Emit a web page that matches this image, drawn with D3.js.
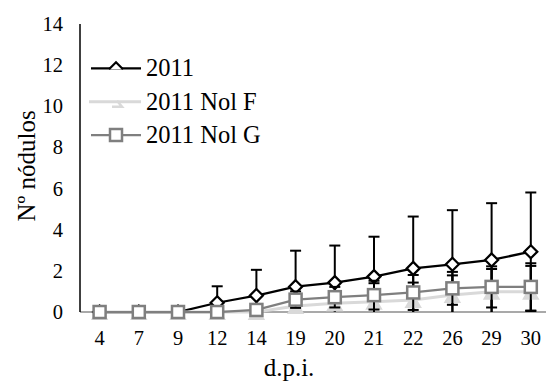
<!DOCTYPE html>
<html><head><meta charset="utf-8">
<script src="https://cdn.jsdelivr.net/npm/d3@7"></script>
<style>body{margin:0;background:#fff}svg{display:block}text{font-family:"Liberation Serif","Times New Roman",serif;fill:#000}</style>
</head><body>
<script>
const categories = ["4","7","9","12","14","19","20","21","22","26","29","30"];
const yTicks = [0,2,4,6,8,10,12,14];
const s2011 = [0,0,0,0.45,0.8,1.23,1.43,1.72,2.12,2.32,2.53,2.93];
const e2011 = [0,0,0,0.8,1.25,1.75,1.8,1.94,2.52,2.63,2.76,2.88];
const sNolF = [0,0,0,0,0,0.29,0.42,0.5,0.58,0.83,0.99,0.99];
const eNolF = [0,0,0,0,0,0.5,0.6,0.9,0.85,0.95,1.1,1.25];
const sNolG = [0,0,0,0,0.1,0.6,0.72,0.82,0.95,1.15,1.22,1.22];
const eNolG = [0,0,0,0,0.1,0.4,0.5,0.7,0.85,0.8,1.0,1.15];
const seriesNames = ["2011","2011 Nol F","2011 Nol G"];

const W=546,H=381;
const svg=d3.select("body").append("svg").attr("width",W).attr("height",H);
const x=d3.scaleBand().domain(categories).range([80,550.4]);
const cx=c=>x(c)+x.bandwidth()/2;
const y=d3.scaleLinear().domain([0,14]).range([312,24]);

svg.append("defs").append("clipPath").attr("id","clip").append("rect")
  .attr("x",80).attr("y",24).attr("width",W-80).attr("height",288);

svg.append("g").selectAll("text").data(yTicks).join("text")
  .attr("x",63).attr("y",d=>y(d)+7).attr("text-anchor","end")
  .style("font-size","20.5px").text(d=>d);
svg.append("g").selectAll("text").data(categories).join("text")
  .attr("x",d=>cx(d)).attr("y",345).attr("text-anchor","middle")
  .style("font-size","20.5px").text(d=>d);

svg.append("line").attr("x1",80).attr("x2",W).attr("y1",y(0)).attr("y2",y(0))
  .attr("stroke","#8c8c8c").attr("stroke-width",1.5);
svg.append("line").attr("x1",80).attr("x2",80).attr("y1",y(14)).attr("y2",y(0))
  .attr("stroke","#000").attr("stroke-width",1.5);

svg.append("text").attr("x",289).attr("y",376).attr("text-anchor","middle")
  .style("font-size","25px").text("d.p.i.");
svg.append("text").attr("transform","translate(35,166) rotate(-90)").attr("text-anchor","middle")
  .style("font-size","25px").text("Nº nódulos");

const plot=svg.append("g");

function errBars(vals,errs){
  const g=plot.append("g").attr("stroke","#000").attr("stroke-width",2).attr("clip-path","url(#clip)");
  vals.forEach((v,i)=>{
    const e=errs[i]; if(!e) return;
    const c=cx(categories[i]);
    g.append("line").attr("x1",c).attr("x2",c).attr("y1",y(v+e)).attr("y2",y(v-e));
    g.append("line").attr("x1",c-5.5).attr("x2",c+5.5).attr("y1",y(v+e)).attr("y2",y(v+e));
    g.append("line").attr("x1",c-5.5).attr("x2",c+5.5).attr("y1",y(v-e)).attr("y2",y(v-e));
  });
}
const line=d3.line().x((d,i)=>cx(categories[i])).y(d=>y(d));

errBars(s2011,e2011);
plot.append("path").datum(s2011).attr("d",line).attr("fill","none").attr("stroke","#000").attr("stroke-width",2.25);
const diamond="M0,-6.5L6.5,0L0,6.5L-6.5,0Z";
plot.append("g").selectAll("path").data(s2011).join("path")
  .attr("transform",(d,i)=>`translate(${cx(categories[i])},${y(d)})`)
  .attr("d",diamond).attr("fill","#fff").attr("stroke","#000").attr("stroke-width",2.25);

errBars(sNolF,eNolF);
plot.append("path").datum(sNolF).attr("d",line).attr("fill","none").attr("stroke","#d9d9d9").attr("stroke-width",3);
const tri="M0,-6L7,6L-7,6Z";
plot.append("g").selectAll("path").data(sNolF).join("path")
  .attr("transform",(d,i)=>`translate(${cx(categories[i])},${y(d)+1})`)
  .attr("d",tri).attr("fill","#d9d9d9").attr("stroke","#d9d9d9").attr("stroke-width",2);

errBars(sNolG,eNolG);
plot.append("path").datum(sNolG).attr("d",line).attr("fill","none").attr("stroke","#7f7f7f").attr("stroke-width",2.25);
plot.append("g").selectAll("rect").data(sNolG).join("rect")
  .attr("x",(d,i)=>cx(categories[i])-6).attr("y",d=>y(d)-6).attr("width",12).attr("height",12)
  .attr("fill","#fff").attr("stroke","#7f7f7f").attr("stroke-width",2.5);

const leg=svg.append("g");
const ly=[68.3,101.7,135];
leg.append("line").attr("x1",91).attr("x2",141).attr("y1",ly[0]).attr("y2",ly[0]).attr("stroke","#000").attr("stroke-width",2.25);
leg.append("path").attr("d",`M${109},${ly[0]+1}L${116},${ly[0]-6}L${123},${ly[0]+1}`).attr("fill","#fff").attr("stroke","#000").attr("stroke-width",2.25);
leg.append("line").attr("x1",89).attr("x2",141).attr("y1",ly[1]).attr("y2",ly[1]).attr("stroke","#d9d9d9").attr("stroke-width",3);
leg.append("path").attr("d",`M${117},${ly[1]-1}L${122},${ly[1]+5}L${112},${ly[1]+5}`).attr("fill","none").attr("stroke","#d9d9d9").attr("stroke-width",2.5);
leg.append("line").attr("x1",91).attr("x2",141).attr("y1",ly[2]).attr("y2",ly[2]).attr("stroke","#7f7f7f").attr("stroke-width",2.25);
leg.append("rect").attr("x",110).attr("y",ly[2]-6).attr("width",12).attr("height",12).attr("fill","#fff").attr("stroke","#7f7f7f").attr("stroke-width",2.5);
leg.selectAll("text.l").data(seriesNames).join("text").attr("class","l")
  .attr("x",146).attr("y",(d,i)=>ly[i]+8).style("font-size","24.5px").text(d=>d);
</script>
</body></html>
